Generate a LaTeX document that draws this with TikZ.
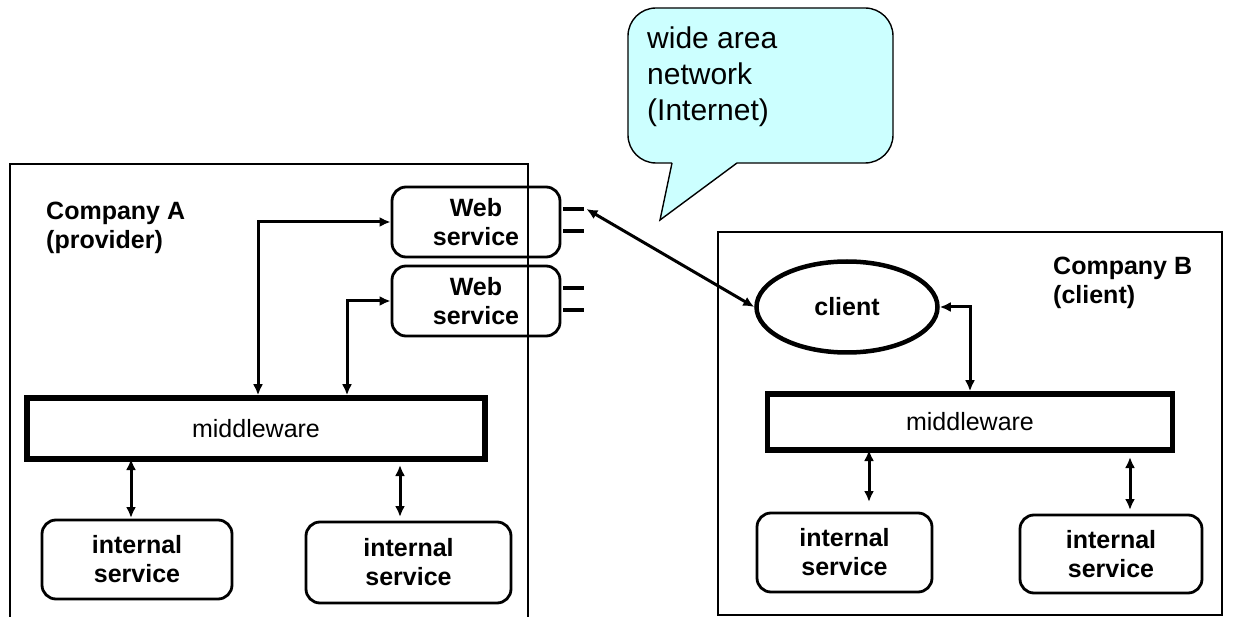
\documentclass[tikz,border=0pt]{standalone}
\usepackage{fontspec}
\setmainfont{Liberation Sans}
\usetikzlibrary{arrows.meta,shapes.geometric}

\definecolor{wancyan}{HTML}{CCFFFF}

\tikzset{
  lbl/.style={font=\fontsize{25}{29}\selectfont\bfseries, align=center, inner sep=0pt},
  svcbox/.style={draw, line width=2.8pt, rounded corners=14pt, lbl},
  mwbox/.style={draw, line width=5.5pt, inner sep=0pt,
    font=\fontsize{25}{29}\selectfont},
  orgbox/.style={draw, line width=2.8pt},
  port/.style={line width=4.5pt},
  link/.style={line width=3pt, {Latex[length=11pt,width=10pt]}-{Latex[length=11pt,width=10pt]}},
  balloon/.style={draw, line width=1.4pt, fill=wancyan},
}

\begin{document}
\begin{tikzpicture}[x=1pt, y=-1pt]
\useasboundingbox (0,0) rectangle (1234,617);

% company outlines
\draw[orgbox] (10,617) -- (10,164) -- (528,164) -- (528,617);
\draw[orgbox] (718,232) rectangle (1222,615);

% company A
\node[lbl, align=left, anchor=north west] (compA) at (46,202) {Company A\\(provider)};
\node[svcbox, minimum width=168pt, minimum height=70pt] (ws1) at (476,222) {Web\\service};
\node[svcbox, minimum width=168pt, minimum height=70pt] (ws2) at (476,301) {Web\\service};
\node[mwbox, minimum width=458pt, minimum height=61pt] (mwA) at (256,428.5) {middleware};
\node[svcbox, minimum width=190pt, minimum height=79pt] (ia1) at (137,559.5) {internal\\service};
\node[svcbox, minimum width=205pt, minimum height=81pt] (ia2) at (408.5,562.5) {internal\\service};

% web service ports (two per service, on the right side)
\draw[port] ([xshift=2pt,yshift=13pt]ws1.east) -- ++(21,0) coordinate (p1);
\draw[port] ([xshift=2pt,yshift=-9pt]ws1.east) -- ++(21,0);
\draw[port] ([xshift=2pt,yshift=13pt]ws2.east) -- ++(21,0);
\draw[port] ([xshift=2pt,yshift=-9pt]ws2.east) -- ++(21,0);

% company B
\node[lbl, align=left, anchor=north west] (compB) at (1053,257) {Company B\\(client)};
\node[draw, ellipse, line width=4.5pt, minimum width=181pt, minimum height=91pt,
      font=\fontsize{25}{29}\selectfont\bfseries] (client) at (847,307) {client};
\node[mwbox, minimum width=405pt, minimum height=56pt] (mwB) at (970,422) {middleware};
\node[svcbox, minimum width=175pt, minimum height=79pt] (ib1) at (844.5,552.5) {internal\\service};
\node[svcbox, minimum width=182pt, minimum height=78pt] (ib2) at (1111,554) {internal\\service};

% wide area network balloon
\draw[balloon] (672,163) -- (660,220) -- (737,163)
  [rounded corners=28pt] -- (893,163) -- (893,8) -- (628,8) -- (628,163) -- (672,163);
\node[anchor=north west, inner sep=0pt, align=left,
      font=\fontsize{30}{36}\selectfont] (wan) at (647,27) {wide area\\network\\(Internet)};

% routing coordinates
\coordinate (ka) at (258,0);
\coordinate (kb) at (347,0);
\coordinate (a1t) at (131,459);  \coordinate (a1b) at (131,518);
\coordinate (a2t) at (400,465);  \coordinate (a2b) at (400,517);
\coordinate (b1t) at (869,450);  \coordinate (b1b) at (869,502);
\coordinate (b2t) at (1130,457); \coordinate (b2b) at (1130,510);

% connectors
\draw[link] (ws1.west) -| (ka |- mwA.north);
\draw[link] (ws2.west) -| (kb |- mwA.north);
\draw[link] (a1t) -- (a1b);
\draw[link] (a2t) -- (a2b);
\draw[link] ([xshift=2pt]p1) -- (client.west);
\draw[link] (client.east) -| (mwB.north);
\draw[link] (b1t) -- (b1b);
\draw[link] (b2t) -- (b2b);
\end{tikzpicture}
\end{document}
